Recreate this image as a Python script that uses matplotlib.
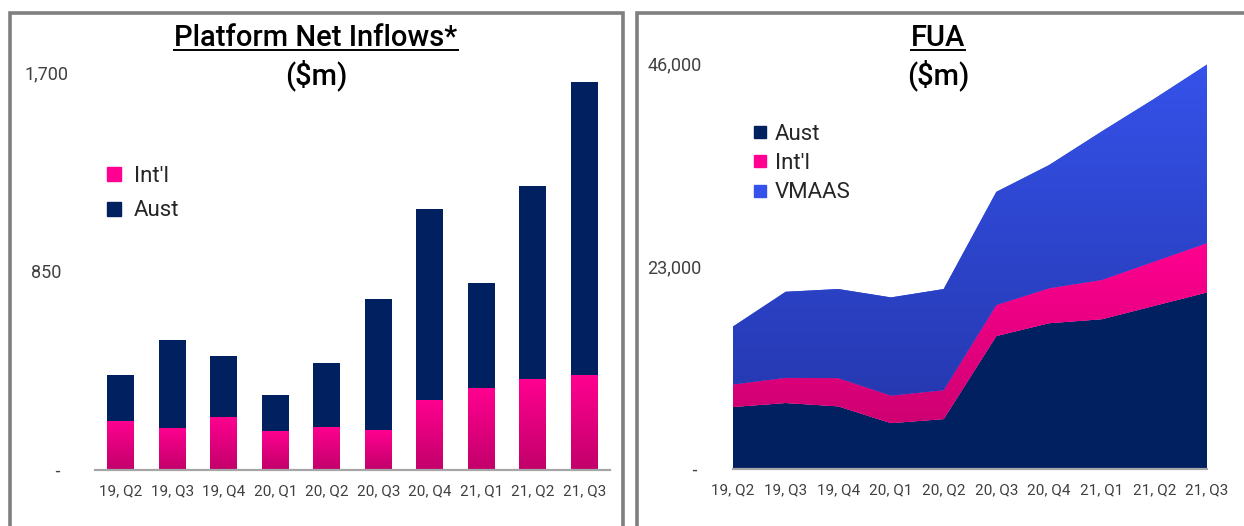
import numpy as np
import matplotlib
matplotlib.use("Agg")
import matplotlib.pyplot as plt
from matplotlib.colors import LinearSegmentedColormap
from matplotlib.lines import Line2D
from matplotlib.patches import Rectangle

plt.rcParams['font.family'] = ['Roboto', 'DejaVu Sans']

quarters = ['19, Q2', '19, Q3', '19, Q4', '20, Q1', '20, Q2',
            '20, Q3', '20, Q4', '21, Q1', '21, Q2', '21, Q3']

# platform net inflows ($m)
inflow_intl = [210, 181, 227, 167, 184, 170, 299, 350, 390, 404]
inflow_aust = [194, 376, 262, 152, 275, 561, 815, 449, 821, 1254]
inflow_ticks = [0, 850, 1700]
inflow_ticklabels = ['     -', '850', '1,700']

# FUA ($m)
fua_aust = [7030, 7480, 7100, 5200, 5660, 15070, 16520, 16970, 18490, 20010]
fua_intl = [2540, 2850, 3190, 3110, 3260, 3500, 3950, 4440, 5010, 5580]
fua_vmaas = [6570, 9750, 10100, 11130, 11470, 12830, 13960, 16830, 18450, 20230]
fua_ticks = [0, 23000, 46000]
fua_ticklabels = ['         -', '23,000', '46,000']

NAVY = '#01205f'
PINK_TOP, PINK_BOT = '#ff0090', '#c2006a'
BLUE_TOP, BLUE_BOT = '#3552ea', '#2334a6'
GREY_TXT = '#404040'
FRAME = '#7f7f7f'

W, H = 1244, 526


def gradient(ax, extent, c_top, c_bot, clip, transform=None, z=3):
    cmap = LinearSegmentedColormap.from_list('g', [c_bot, c_top])
    g = np.linspace(0, 1, 256).reshape(-1, 1)
    im = ax.imshow(g, cmap=cmap, origin='lower', extent=extent,
                   aspect='auto', zorder=z, interpolation='bilinear')
    if transform is None:
        im.set_clip_path(clip)
    else:
        im.set_clip_path(clip, transform)
    return im


def px_axes(fig, x0, x1, y_top, y_bot):
    return fig.add_axes([x0 / W, 1 - y_bot / H, (x1 - x0) / W, (y_bot - y_top) / H])


def style_axes(ax, ticks, labels, pad):
    for s in ['top', 'right', 'left']:
        ax.spines[s].set_visible(False)
    ax.spines['bottom'].set_color('#a6a6a6')
    ax.spines['bottom'].set_linewidth(1.6)
    ax.spines['bottom'].set_zorder(6)
    ax.set_yticks(ticks, labels)
    for lab in ax.get_yticklabels():
        lab.set_ha('center')
    ax.tick_params(axis='y', length=0, pad=pad, labelsize=13, labelcolor=GREY_TXT)
    ax.tick_params(axis='x', length=0, pad=10, labelsize=11, labelcolor=GREY_TXT)


def title(fig, xc, s1, s2):
    t = fig.text(xc / W, 1 - 38 / H, s1, ha='center', va='center',
                 fontsize=21, weight='medium', color='black')
    fig.text(xc / W, 1 - 75 / H, s2, ha='center', va='center',
             fontsize=21, weight='medium', color='black')
    fig.canvas.draw()
    bb = t.get_window_extent()
    y = (bb.y0 + 2) / H
    fig.add_artist(Line2D([bb.x0 / W, bb.x1 / W], [y, y], color='black', lw=1.4))


fig = plt.figure(figsize=(W / 100, H / 100), dpi=100)
fig.patch.set_facecolor('white')

# panel frames (open at the bottom)
fig.add_artist(Rectangle((9.5 / W, -0.05), 613 / W, 1.05 - 13.5 / H,
                         transform=fig.transFigure, fill=False, ec=FRAME, lw=2.6))
fig.add_artist(Rectangle((636.5 / W, -0.05), 640 / W, 1.05 - 13.5 / H,
                         transform=fig.transFigure, fill=False, ec=FRAME, lw=2.6))

# ---- left: platform net inflows (stacked bars)
ax1 = px_axes(fig, 95, 610, 72, 470)
x = np.arange(len(quarters))
bw = 0.52
b_intl = ax1.bar(x, inflow_intl, bw, color=PINK_TOP, zorder=2)
ax1.bar(x, inflow_aust, bw, bottom=inflow_intl, color=NAVY, zorder=2)
for b in b_intl:
    gradient(ax1, (b.get_x(), b.get_x() + b.get_width(), 0, b.get_height()),
             PINK_TOP, PINK_BOT, b)
ax1.set_xlim(-0.5, len(quarters) - 0.5)
ax1.set_ylim(0, 1700)
ax1.set_xticks(x, quarters)
style_axes(ax1, inflow_ticks, inflow_ticklabels, 35)

h1 = [Line2D([], [], marker='s', ls='', color=PINK_TOP, markersize=9.5),
      Line2D([], [], marker='s', ls='', color=NAVY, markersize=9.5)]
ax1.legend(h1, ["Int'l", 'Aust'], loc='upper left', bbox_to_anchor=(-0.028, 0.815),
           frameon=False, fontsize=16, labelspacing=0.62, handletextpad=0.3,
           handlelength=1.2, labelcolor='#262626')

# ---- right: FUA (stacked area)
ax2 = px_axes(fig, 733, 1207, 63, 469)
polys = ax2.stackplot(x, fua_aust, fua_intl, fua_vmaas,
                      colors=[NAVY, PINK_TOP, BLUE_TOP], lw=0, zorder=2)
top_intl = np.array(fua_aust) + np.array(fua_intl)
gradient(ax2, (0, len(quarters) - 1, 0, top_intl.max()), PINK_TOP, PINK_BOT,
         polys[1].get_paths()[0], ax2.transData)
gradient(ax2, (0, len(quarters) - 1, 0, 46000), BLUE_TOP, BLUE_BOT,
         polys[2].get_paths()[0], ax2.transData)
ax2.set_xlim(0, len(quarters) - 1)
ax2.set_ylim(0, 46000)
ax2.set_xticks(x, quarters)
style_axes(ax2, fua_ticks, fua_ticklabels, 42)

h2 = [Line2D([], [], marker='s', ls='', color=NAVY, markersize=9),
      Line2D([], [], marker='s', ls='', color=PINK_TOP, markersize=9),
      Line2D([], [], marker='s', ls='', color=BLUE_TOP, markersize=9)]
ax2.legend(h2, ['Aust', "Int'l", 'VMAAS'], loc='upper left',
           bbox_to_anchor=(-0.008, 0.9), frameon=False, fontsize=16,
           labelspacing=0.38, handletextpad=0.15, handlelength=1.0,
           labelcolor='#262626')

title(fig, 316, 'Platform Net Inflows*', '($m)')
title(fig, 938, 'FUA', '($m)')

fig.savefig('out.png', dpi=100, facecolor='white')
